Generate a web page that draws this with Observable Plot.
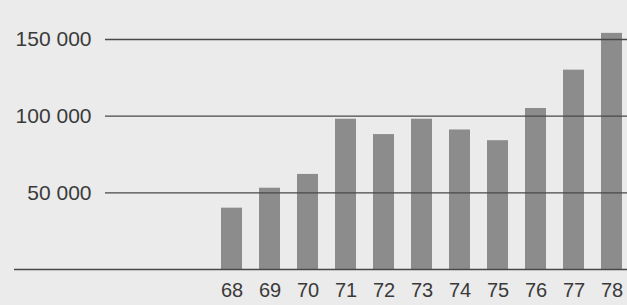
<!DOCTYPE html>
<html>
<head>
<meta charset="utf-8">
<script src="https://cdn.jsdelivr.net/npm/d3@7"></script>
<script src="https://cdn.jsdelivr.net/npm/@observablehq/plot@0.6"></script>
<style>
  html, body { margin: 0; padding: 0; background: #ebebeb; }
  #chart svg { display: block; }
</style>
</head>
<body>
<div id="chart"></div>
<script>
const years = ["68", "69", "70", "71", "72", "73", "74", "75", "76", "77", "78"];
const values = [40000, 53000, 62000, 98000, 88000, 98000, 91000, 84000, 105000, 130000, 154000];
const yTicks = [50000, 100000, 150000];

const data = years.map((y, i) => ({year: y, value: values[i]}));
const fmt = d => d3.format(",")(d).replace(/,/g, " ");

const chart = Plot.plot({
  width: 627,
  height: 305,
  marginLeft: 14,
  marginRight: 0,
  marginTop: 39,
  marginBottom: 36,
  style: {background: "#ebebeb", fontFamily: "'Liberation Sans', Arial, sans-serif", color: "#333"},
  x: {domain: years, range: [220, 623], paddingInner: 0.45, paddingOuter: 0},
  y: {domain: [0, 150000]},
  marks: [
    Plot.barY(data, {x: "year", y: "value", fill: "#8c8c8c"}),
    Plot.ruleY(yTicks, {stroke: "#484848", strokeWidth: 1.4, insetLeft: 91}),
    Plot.ruleY([0], {stroke: "#484848", strokeWidth: 1.4}),
    Plot.axisY(yTicks, {anchor: "left", tickSize: 0, tickPadding: 0, dx: 77, textAnchor: "end", tickFormat: fmt, fontSize: 21, fill: "#3a3a3a", label: null}),
    Plot.axisX({tickSize: 0, tickPadding: 13, fontSize: 20, fill: "#3a3a3a", label: null})
  ]
});
document.getElementById("chart").appendChild(chart);
</script>
</body>
</html>
